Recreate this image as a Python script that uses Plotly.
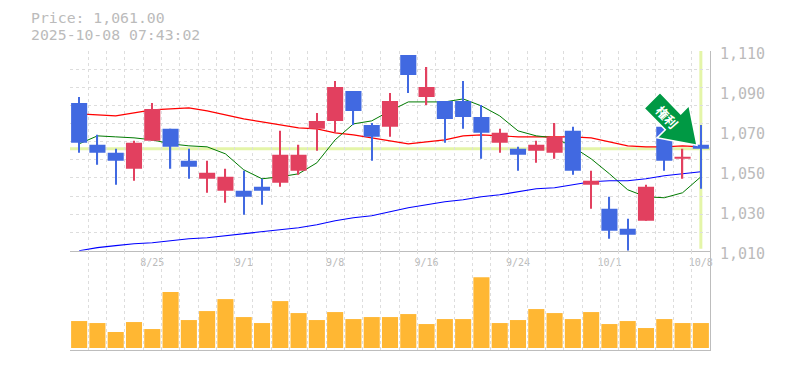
import plotly.graph_objects as go

index = list(range(35))
date_ticks = [4, 9, 14, 19, 24, 29, 34]
date_labels = ["8/25", "9/1", "9/8", "9/16", "9/24", "10/1", "10/8"]
price_ticks = [1010, 1030, 1050, 1070, 1090, 1110]
last_price = 1061

opens = [1084, 1063, 1059, 1051, 1065, 1071, 1055, 1046, 1040, 1040, 1042, 1044, 1050, 1071, 1075, 1090, 1073, 1072,
         1108, 1087, 1085, 1085, 1077, 1064, 1061, 1060, 1059, 1070, 1043, 1031, 1021, 1025, 1072, 1056, 1063]
highs = [1087, 1068, 1061, 1065, 1084, 1071, 1061, 1055, 1051, 1050, 1046, 1070, 1063, 1079, 1095, 1090, 1074, 1089,
         1108, 1102, 1085, 1095, 1083, 1071, 1062, 1065, 1074, 1072, 1050, 1037, 1026, 1043, 1072, 1061, 1073]
lows = [1059, 1053, 1043, 1045, 1065, 1051, 1046, 1039, 1034, 1028, 1033, 1042, 1048, 1060, 1069, 1073, 1055, 1067,
        1089, 1083, 1064, 1071, 1056, 1059, 1050, 1054, 1056, 1048, 1031, 1016, 1010, 1025, 1050, 1046, 1041]
closes = [1064, 1059, 1055, 1064, 1081, 1062, 1052, 1049, 1047, 1037, 1040, 1058, 1058, 1075, 1092, 1080, 1067, 1085,
          1098, 1092, 1076, 1077, 1069, 1069, 1058, 1063, 1067, 1050, 1045, 1020, 1018, 1042, 1055, 1057, 1061]

ma_short = [1063.5, 1067.5, 1067, 1066.5, 1065.5, 1063.5, 1062.5, 1062, 1058.5, 1050.5, 1046, 1047, 1048.5, 1054, 1065.5,
            1073.5, 1075, 1080, 1084.5, 1084.5, 1084.5, 1086, 1082.5, 1077.5, 1070, 1067.5, 1066.5, 1062, 1056, 1048.5,
            1040.5, 1037, 1036.5, 1039, 1047]
ma_mid = [1078.5, 1078, 1077.5, 1079, 1080.5, 1081, 1081.5, 1080, 1078, 1076, 1074.5, 1073, 1071.5, 1071, 1069, 1068,
          1066.5, 1065, 1063.5, 1064.5, 1065.5, 1067.5, 1068, 1067.5, 1067, 1067, 1067, 1067, 1066.5, 1064.5, 1062.5,
          1062, 1062, 1062.5, 1062]
ma_long = [1010, 1011.5, 1012.5, 1013.5, 1014, 1015, 1016, 1016.5, 1017.5, 1018.5, 1019.5, 1020.5, 1021.5, 1023, 1025,
           1026.5, 1027.5, 1029.5, 1031.5, 1033, 1034.5, 1035.5, 1037, 1038, 1039.5, 1041, 1041.5, 1043, 1044.5, 1045,
           1045, 1046, 1047.5, 1048.5, 1049.5]
volume = [27, 25, 16, 26, 19, 56, 28, 37, 49, 31, 25, 47, 35, 28, 36, 29, 31, 31, 34, 24, 29, 29, 71, 25, 28, 39, 35,
          29, 36, 24, 27, 20, 29, 25, 25]

GRID = "#dddddd"
AXIS = "#bdbdbd"
TEXT = "#bbbbbb"
BLUE = "#4169e1"
RED = "#e2405f"
ORANGE = "#ffb733"
LIME = "#e4f5a8"
GREEN = "#009944"

PAGE = 8  # the page's own margin around the figure
W, H = 785 - PAGE, 370 - PAGE
L, R, T, B, MID = 70, 710, 50.5, 350, 250.5


def px(x):
    return (x - L) / (R - L)


def py(y):
    return (B - y) / (B - T)


edges = [i - 0.5 for i in range(36)]
h_grid = [1109.75 - i * 9.05 for i in range(11)]
split = py(MID)

body_base = [min(o, c) for o, c in zip(opens, closes)]
body_size = [max(abs(o - c), 0.6) for o, c in zip(opens, closes)]
candle_col = [RED if c >= o else BLUE for o, c in zip(opens, closes)]

fig = go.Figure()
for name, vals, color, w in [("MA25", ma_mid, "#ff0000", 1.1), ("MA5", ma_short, "#007a00", 1),
                             ("MA75", ma_long, "#0000ff", 1.1)]:
    fig.add_trace(go.Scatter(x=index, y=vals, mode="lines", name=name, line=dict(color=color, width=w),
                             xaxis="x", yaxis="y"))
fig.add_trace(go.Bar(x=index, base=lows, y=[h - l for h, l in zip(highs, lows)], width=0.07, name="range",
                     marker=dict(color=candle_col, line=dict(width=0)), xaxis="x", yaxis="y3"))
fig.add_trace(go.Bar(x=index, base=body_base, y=body_size, width=0.88, name="body",
                     marker=dict(color=candle_col, line=dict(width=0)), xaxis="x", yaxis="y3"))
fig.add_trace(go.Bar(x=index, y=volume, marker=dict(color=ORANGE, line=dict(width=0)), width=0.88, name="volume",
                     xaxis="x2", yaxis="y2"))

grid_minor = dict(tickvals=edges, showgrid=True, gridcolor=GRID, griddash="3px,3px", gridwidth=1, ticklen=0)
rng = [-0.5, 34.5]
fig.update_layout(
    width=W, height=H, margin=dict(l=L - PAGE, r=W - (R - PAGE), t=T - PAGE, b=H - (B - PAGE), pad=0, autoexpand=False),
    plot_bgcolor="white", paper_bgcolor="white", showlegend=False, barmode="overlay",
    font=dict(family="DejaVu Sans Mono", color=TEXT),
    xaxis=dict(domain=[0, 1], range=rng, anchor="y", tickmode="array", tickvals=date_ticks, ticktext=date_labels,
               showgrid=False, minor=grid_minor, zeroline=False, showline=True, linecolor=AXIS, linewidth=1,
               ticks="outside", ticklen=2, tickcolor="rgba(0,0,0,0)", tickfont=dict(size=10, color=TEXT)),
    yaxis=dict(domain=[split, 1], range=[1010, 1110], side="right", anchor="x", tickmode="array",
               tickvals=price_ticks, tickformat=",d", showgrid=False,
               minor=dict(tickvals=h_grid, showgrid=True, gridcolor=GRID, griddash="3px,3px", gridwidth=1, ticklen=0),
               zeroline=False, showline=True, linecolor=AXIS, linewidth=1, ticks="outside", ticklen=6,
               tickcolor="rgba(0,0,0,0)", tickfont=dict(size=15, color=TEXT), ticklabelshift=3),
    yaxis3=dict(domain=[split, 1], range=[1010, 1110], overlaying="y", side="left", anchor="x", visible=False,
                showgrid=False, zeroline=False),
    xaxis2=dict(domain=[0, 1], range=rng, anchor="y2", tickmode="array", tickvals=[], showgrid=False, minor=grid_minor,
                zeroline=False, showline=True, linecolor=AXIS, linewidth=1, showticklabels=False),
    yaxis2=dict(domain=[0, split], range=[-2, 97.5], side="right", anchor="x2", showgrid=False, zeroline=False,
                showline=True, linecolor=AXIS, linewidth=1, tickvals=[], showticklabels=False),
    shapes=[
        dict(type="line", xref="x", yref="y", x0=-0.5, x1=34.5, y0=last_price, y1=last_price,
             line=dict(color=LIME, width=3), layer="below"),
        dict(type="line", xref="x", yref="y", x0=34, x1=34, y0=1011, y1=1110,
             line=dict(color=LIME, width=3), layer="below"),
        dict(type="path", xref="paper", yref="paper", layer="above", fillcolor=GREEN,
             line=dict(color="white", width=1.5),
             path="M " + " L ".join(f"{px(a):.5f},{py(b):.5f}" for a, b in
                                    [(660, 92), (680.7, 113.5), (689, 105), (697, 145), (657, 137.5), (665.3, 129.3),
                                     (644, 108)]) + " Z"),
    ],
    annotations=[
        dict(text="Price: 1,061.00", xref="paper", yref="paper", x=px(28.5), y=py(16.8), xanchor="left",
             yanchor="middle", showarrow=False, font=dict(size=14.8, color=TEXT, family="DejaVu Sans Mono")),
        dict(text="2025-10-08 07:43:02", xref="paper", yref="paper", x=px(28.5), y=py(34.2), xanchor="left",
             yanchor="middle", showarrow=False, font=dict(size=14.8, color=TEXT, family="DejaVu Sans Mono")),
        dict(text="<b>権利</b>", xref="paper", yref="paper", x=px(667), y=py(116), xanchor="center", yanchor="middle",
             textangle=48, showarrow=False, font=dict(size=12.5, color="white", family="Noto Sans CJK JP")),
    ],
)
fig.write_html("out.html")
